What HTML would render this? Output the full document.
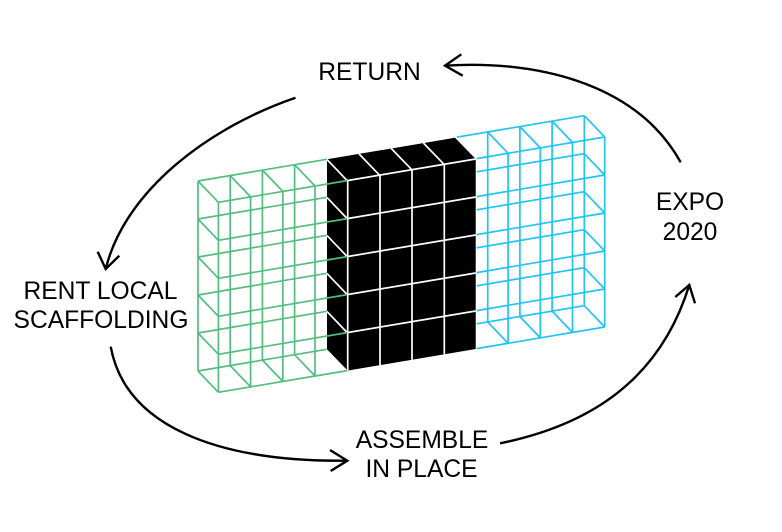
<!DOCTYPE html>
<html>
<head>
<meta charset="utf-8">
<style>
html,body{margin:0;padding:0;background:#fff;width:782px;height:532px;overflow:hidden}
svg{display:block}
text{font-family:"Liberation Sans",Arial,sans-serif;font-size:24.6px;fill:#000;text-anchor:middle}
</style>
</head>
<body>
<svg width="782" height="532" viewBox="0 0 782 532" xmlns="http://www.w3.org/2000/svg">
<polygon points="327,159.3 455,137.7 475.7,159 475.7,349 347.7,370.6 327,349.3" fill="#000"/>
<path fill="none" stroke="#fff" stroke-width="1.7" d="M347.2 180.6L475.7 159M347.2 218.6L475.7 197M347.2 256.6L475.7 235M347.2 294.6L475.7 273M347.2 332.6L475.7 311
M347.7 180.6V370.6M380 175.2V365.2M412 169.7V359.7M444.3 164.3V354.3
M326.8 159.3L347.2 180.6M359 153.9L379.6 175.2M391.2 148.4L411.8 169.7M423.4 143L444 164.3
M326.8 197.3L347.2 218.6M326.8 235.3L347.2 256.6M326.8 273.3L347.2 294.6M326.8 311.3L347.2 332.6"/>
<path fill="none" stroke="#54bd7e" stroke-width="1.7" d="M198 181L326.8 159.3M198 219L326.8 197.3M198 257L326.8 235.3M198 295L326.8 273.3M198 333L326.8 311.3M198 371L326.8 349.3
M218.4 202.3L347.2 180.6M218.4 240.3L347.2 218.6M218.4 278.3L347.2 256.6M218.4 316.3L347.2 294.6M218.4 354.3L347.2 332.6M218.4 392.3L347.2 370.6
M198 181V371M230.2 175.6V365.6M262.4 170.1V360.1M294.6 164.7V354.7
M218.4 202.3V392.3M250.6 196.9V386.9M282.8 191.4V381.4M315 186V376
M198 181L218.4 202.3M230.2 175.6L250.6 196.9M262.4 170.1L282.8 191.4M294.6 164.7L315 186
M198 219L218.4 240.3M198 257L218.4 278.3M198 295L218.4 316.3M198 333L218.4 354.3
M198 371L218.4 392.3M230.2 365.6L250.6 386.9M262.4 360.1L282.8 381.4M294.6 354.7L315 376"/>
<path fill="none" stroke="#22c3f5" stroke-width="1.7" d="M456.7 137.2L584.3 115.7M476.7 171.8L584.3 153.7M476.7 209.8L584.3 191.7M476.7 247.8L584.3 229.7M476.7 285.8L584.3 267.7M476.7 323.8L584.3 305.7
M476.7 158.6L604.7 137M476.7 196.6L604.7 175M476.7 234.6L604.7 213M476.7 272.6L604.7 251M476.7 310.6L604.7 289M476.7 348.6L604.7 327
M487.7 132V322M519.9 126.6V316.6M552.1 121.1V311.1M584.3 115.7V305.7
M508.1 153.3V343.3M540.3 147.9V337.9M572.5 142.4V332.4M604.7 137V327
M487.7 132L508.1 153.3M519.9 126.6L540.3 147.9M552.1 121.1L572.5 142.4M584.3 115.7L604.7 137
M584.3 153.7L604.7 175M584.3 191.7L604.7 213M584.3 229.7L604.7 251M584.3 267.7L604.7 289
M487.7 322L508.1 343.3M519.9 316.6L540.3 337.9M552.1 311.1L572.5 332.4M584.3 305.7L604.7 327"/>
<g fill="none" stroke="#000" stroke-width="2.4">
<path d="M295.5 97.7C210 127 125 190 105.7 269"/>
<path d="M97.7 251.7L105.7 269L119.3 255.7"/>
<path d="M680.7 162.3C635 80 530 60 445 65.7"/>
<path d="M461.3 54.3L445 65.7L462.7 75.7"/>
<path d="M110.7 346.7C125 425 215 462 347.3 460.7"/>
<path d="M330 450L347.3 460.7L330.7 471"/>
<path d="M500 443.3C590 425 660 380 689.3 285"/>
<path d="M675.3 297L689.3 285L695 303.3"/>
</g>
<text x="369.5" y="80">RETURN</text>
<text x="690" y="210">EXPO</text>
<text x="690" y="240">2020</text>
<text x="100.5" y="299">RENT LOCAL</text>
<text x="101" y="328">SCAFFOLDING</text>
<text x="422" y="448">ASSEMBLE</text>
<text x="421.5" y="477">IN PLACE</text>
</svg>
</body>
</html>
